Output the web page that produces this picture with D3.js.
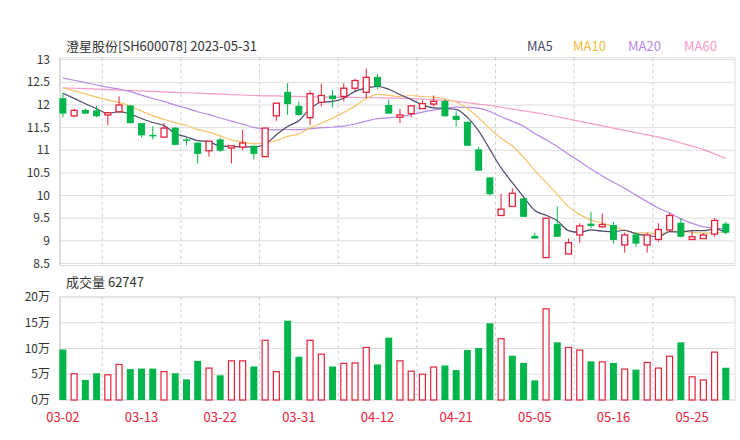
<!DOCTYPE html>
<html><head><meta charset="utf-8">
<script src="https://cdn.jsdelivr.net/npm/d3@7"></script>
<style>body{margin:0;background:#fff}svg{font-family:"Noto Sans CJK SC","Noto Sans",sans-serif}</style>
</head><body><svg id="c" width="740" height="440"></svg>
<script>
const opens  = [12.15,11.76,11.89,11.88,11.78,11.85,11.99,11.6,11.34,11.29,11.5,11.24,11.17,10.99,11.24,11.05,11.07,11.1,10.86,11.76,12.29,11.98,11.72,12.06,12.21,12.19,12.37,12.28,12.62,12.0,11.73,11.81,11.92,12.02,12.09,11.76,11.63,11.02,10.4,9.56,9.76,9.94,9.11,8.63,9.37,8.71,9.13,9.38,9.31,9.35,8.91,9.14,8.91,9.03,9.24,9.4,9.03,9.05,9.15,9.38];
const closes = [11.81,11.88,11.81,11.75,11.83,12.0,11.6,11.33,11.31,11.49,11.12,11.22,10.92,11.2,10.99,11.1,11.16,10.92,11.49,12.04,12.02,11.78,12.25,12.21,12.13,12.37,12.54,12.61,12.41,11.81,11.78,11.98,12.03,12.08,11.75,11.67,11.1,10.55,10.03,9.7,10.05,9.53,9.05,9.5,9.09,8.96,9.33,9.33,9.36,9.02,9.13,8.94,9.13,9.25,9.56,9.09,9.09,9.13,9.45,9.18];
const highs  = [12.26,11.92,11.92,11.98,11.84,12.19,12.0,11.6,11.53,11.6,11.5,11.29,11.17,11.2,11.27,11.1,11.45,11.1,11.49,12.04,12.48,12.07,12.32,12.47,12.32,12.48,12.58,12.8,12.68,12.12,11.91,12.0,12.1,12.21,12.12,11.86,11.63,11.07,10.4,10.04,10.16,9.94,9.18,9.5,9.76,9.05,9.39,9.64,9.6,9.42,9.18,9.19,9.18,9.39,9.62,9.5,9.22,9.17,9.5,9.42];
const lows   = [11.73,11.73,11.8,11.73,11.55,11.83,11.59,11.28,11.24,11.29,11.11,11.11,10.71,10.86,10.97,10.71,11.0,10.8,10.86,11.65,11.78,11.76,11.56,11.97,11.95,12.08,12.3,12.15,12.35,11.8,11.6,11.73,11.92,11.97,11.75,11.52,11.1,10.55,10.0,9.56,9.76,9.53,9.05,8.63,9.09,8.71,8.96,9.28,9.28,8.94,8.74,8.87,8.74,8.98,9.2,9.08,9.02,9.04,9.09,9.14];
const priorCloses = [12.9,12.85,12.8,12.85,12.75,12.8,12.85,12.8,12.75,12.8,12.55,12.5,12.45,12.5,12.5,12.45,12.4,12.3,12.34];
const ma60 = [12.38,12.37,12.36,12.35,12.34,12.33,12.32,12.31,12.3,12.29,12.28,12.27,12.26,12.25,12.24,12.23,12.22,12.21,12.2,12.2,12.19,12.19,12.18,12.18,12.17,12.17,12.17,12.16,12.16,12.15,12.15,12.14,12.13,12.12,12.1,12.08,12.05,12.02,11.99,11.95,11.91,11.87,11.83,11.79,11.74,11.69,11.64,11.59,11.54,11.49,11.44,11.39,11.34,11.29,11.23,11.16,11.09,11.02,10.92,10.82];
const volumes = [9.8,5.1,3.9,5.2,4.9,6.9,6.0,6.1,6.1,5.5,5.2,4.0,7.6,6.2,4.8,7.6,7.6,6.5,11.6,5.5,15.4,8.4,11.6,8.9,6.5,7.1,7.2,10.2,6.9,12.1,7.6,5.6,5.0,6.4,6.7,5.8,9.7,10.1,14.9,11.9,8.6,7.2,3.8,17.7,11.2,10.2,9.7,7.5,7.4,7.2,6.0,5.9,7.3,6.2,8.5,11.2,4.5,3.9,9.3,6.27];
const volGreen = [1,0,1,1,0,0,1,1,1,0,1,1,1,0,1,0,0,1,0,0,1,1,0,0,1,0,0,0,1,1,0,0,0,0,1,1,1,1,1,0,1,1,1,0,1,0,0,1,0,1,0,1,0,0,0,1,0,0,0,1];
const tickIdx = [0,7,14,21,28,35,42,49,56];
const tickLabels = ["03-02","03-13","03-22","03-31","04-12","04-21","05-05","05-16","05-25"];
const priceTicks = [8.5,9,9.5,10,10.5,11,11.5,12,12.5,13];
const volTicks = [0,5,10,15,20];

const svg = d3.select("#c");
const GREEN="#00b54b", RED="#e5213b";
const L=60,R=735,T=59.7,B=263.5,VT=297,VB=400;
const x = d3.scaleBand().domain(d3.range(60)).range([59.4,729.3]).paddingInner(0.38);
const cx = i=>x(i)+x.bandwidth()/2;
const y = d3.scaleLinear().domain([8.5,13]).range([B,T]);
const yv = d3.scaleLinear().domain([0,20]).range([VB,VT]);

[[T,B],[VT,VB]].forEach(([t,b],k)=>{
  svg.append("rect").attr("x",L).attr("y",k?VT:T-2).attr("width",R-L).attr("height",(k?VB-VT:B-T+4)).attr("fill","none").attr("stroke","#ddd");
});
priceTicks.forEach(v=>svg.append("line").attr("x1",L).attr("x2",R).attr("y1",y(v)).attr("y2",y(v)).attr("stroke","#ddd"));
volTicks.forEach(v=>svg.append("line").attr("x1",L).attr("x2",R).attr("y1",yv(v)).attr("y2",yv(v)).attr("stroke","#ddd"));
tickIdx.slice(0,-1).forEach((t,k)=>{
  const gx=(cx(t)+cx(tickIdx[k+1]))/2;
  [[T-2,B+2],[VT,VB]].forEach(([a,b])=>svg.append("line").attr("x1",gx).attr("x2",gx).attr("y1",a).attr("y2",b).attr("stroke","#ccc").attr("stroke-dasharray","3,3"));
});
svg.append("line").attr("x1",L).attr("x2",L).attr("y1",T-2).attr("y2",B+2).attr("stroke","#ccc");
svg.append("line").attr("x1",L).attr("x2",L).attr("y1",VT).attr("y2",VB).attr("stroke","#ccc");

priceTicks.forEach(v=>svg.append("text").attr("x",50).attr("y",y(v)+4).attr("text-anchor","end").attr("font-size",12).attr("fill","#333").text(v));
volTicks.forEach(v=>svg.append("text").attr("x",50).attr("y",yv(v)+4).attr("text-anchor","end").attr("font-size",12).attr("fill","#333").text(v+"万"));
tickIdx.forEach((t,k)=>svg.append("text").attr("x",cx(t)).attr("y",422).attr("text-anchor","middle").attr("font-size",13).attr("fill",RED).text(tickLabels[k]));

const all = priorCloses.concat(closes);
const ma = n=>closes.map((c,i)=>d3.mean(all.slice(i+19-n+1,i+20)));
const line = d3.line().x((d,i)=>cx(i)).y(d=>y(d)).curve(d3.curveMonotoneX);
[[ma60,"#f59ac8"],[ma(20),"#b888e6"],[ma(10),"#f6c26a"],[ma(5),"#4a4a6a"]].forEach(([d,c])=>
  svg.append("path").attr("d",line(d)).attr("fill","none").attr("stroke",c).attr("stroke-width",1.2));

const bw=x.bandwidth();
closes.forEach((c,i)=>{
  const o=opens[i], up=c>=o, col=up?RED:GREEN;
  const top=y(Math.max(o,c)), bot=y(Math.min(o,c));
  if(up){
    svg.append("line").attr("x1",cx(i)).attr("x2",cx(i)).attr("y1",y(highs[i])).attr("y2",top).attr("stroke",col);
    svg.append("line").attr("x1",cx(i)).attr("x2",cx(i)).attr("y1",bot).attr("y2",y(lows[i])).attr("stroke",col);
    svg.append("rect").attr("x",x(i)+0.5).attr("y",top).attr("width",bw-1).attr("height",Math.max(1,bot-top)).attr("fill","#fff").attr("stroke",col).attr("stroke-width",1.3);
  } else {
    svg.append("line").attr("x1",cx(i)).attr("x2",cx(i)).attr("y1",y(highs[i])).attr("y2",y(lows[i])).attr("stroke",col);
    svg.append("rect").attr("x",x(i)).attr("y",top).attr("width",bw).attr("height",Math.max(1.5,bot-top)).attr("fill",col);
  }
});
volumes.forEach((v,i)=>{
  if(volGreen[i]) svg.append("rect").attr("x",x(i)).attr("y",yv(v)).attr("width",bw).attr("height",VB-yv(v)).attr("fill",GREEN);
  else svg.append("rect").attr("x",x(i)+0.5).attr("y",yv(v)).attr("width",bw-1).attr("height",VB-yv(v)).attr("fill","#fff").attr("stroke",RED).attr("stroke-width",1.2);
});

svg.append("text").attr("x",66).attr("y",51).attr("font-size",13).attr("fill","#333").text("澄星股份[SH600078] 2023-05-31");
[["MA5","#4a4a6a",527],["MA10","#f6b93b",573],["MA20","#b888e6",628],["MA60","#f59ac8",684]].forEach(([t,c,px])=>
  svg.append("text").attr("x",px).attr("y",51).attr("font-size",13).attr("fill",c).text(t));
svg.append("text").attr("x",66).attr("y",287).attr("font-size",13).attr("fill","#333").text("成交量 62747");
</script></body></html>
